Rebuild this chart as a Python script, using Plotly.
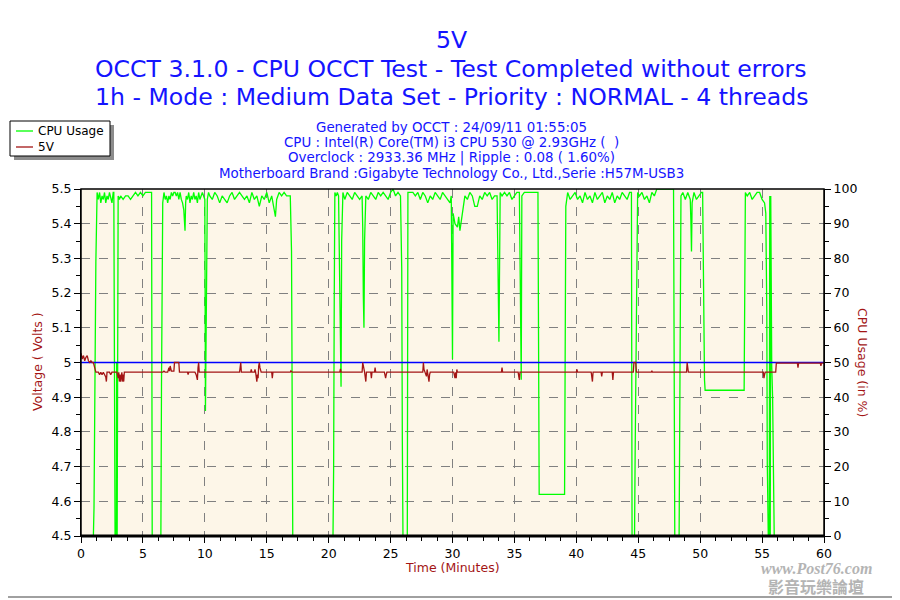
import plotly.graph_objects as go

# CPU usage trace (minutes, %)
cpu_time = [0, 1.0, 1.05, 1.1, 1.2, 1.3, 1.4, 1.5, 1.6, 1.7, 1.8, 1.9, 2.0, 2.1, 2.2, 2.3, 2.4, 2.5, 2.6, 2.65,
            2.7, 2.75, 2.85, 2.88, 2.92, 3.0, 3.1, 3.2, 3.4, 3.6, 3.8, 4.0, 4.2, 4.4, 4.6, 4.8, 5.0, 5.2, 5.4, 5.6, 5.7,
            5.75, 6.45, 6.5, 6.55, 6.6, 6.7, 6.8, 6.9, 7.0, 7.1, 7.2, 7.3, 7.4, 7.5, 7.6, 7.7, 7.8, 7.9, 8.0, 8.1,
            8.2, 8.3, 8.35, 8.4, 8.45, 8.5, 8.6, 8.7, 8.8, 8.9, 9.0, 9.1, 9.2, 9.3, 9.4, 9.5, 9.6, 9.7, 9.8, 9.9,
            10.0, 10.05, 10.1, 10.15, 10.2, 10.3, 10.4, 10.6, 10.8, 11.0, 11.2, 11.4, 11.6, 11.8, 12.0, 12.2, 12.4,
            12.6, 12.8, 13.0, 13.2, 13.4, 13.6, 13.8, 14.0, 14.2, 14.4, 14.6, 14.8, 15.0, 15.2, 15.4, 15.6, 15.7,
            15.8, 16.0, 16.2, 16.4, 16.6, 16.9, 17.0, 17.05, 17.1, 20.35, 20.4, 20.45, 20.5, 20.6, 20.7, 20.8, 20.9,
            20.95, 21.0, 21.05, 21.15, 21.3, 21.5, 21.7, 21.9, 22.1, 22.3, 22.5, 22.7, 22.75, 22.8, 22.85, 22.9,
            23.0, 23.2, 23.4, 23.6, 23.8, 24.0, 24.2, 24.4, 24.6, 24.8, 25.0, 25.2, 25.4, 25.6, 25.8, 25.9, 25.95,
            26.0, 26.35, 26.4, 26.6, 26.8, 27.0, 27.2, 27.4, 27.6, 27.8, 28.0, 28.2, 28.4, 28.6, 28.8, 29.0, 29.2,
            29.4, 29.6, 29.8, 29.9, 29.95, 30.0, 30.05, 30.2, 30.4, 30.5, 30.6, 30.8, 30.9, 31.0, 31.2, 31.4, 31.6,
            31.8, 32.0, 32.2, 32.4, 32.6, 32.8, 33.0, 33.2, 33.4, 33.6, 33.7, 33.75, 33.85, 34.0, 34.2, 34.4, 34.6,
            34.8, 35.0, 35.2, 35.4, 35.45, 35.5, 35.55, 35.6, 35.8, 36.0, 36.4, 36.9, 36.95, 37.0, 39.05, 39.1,
            39.15, 39.3, 39.5, 39.7, 39.9, 40.1, 40.3, 40.5, 40.7, 40.9, 41.1, 41.3, 41.5, 41.7, 41.9, 42.1, 42.3,
            42.5, 42.7, 42.9, 43.1, 43.3, 43.5, 43.7, 43.9, 44.1, 44.3, 44.45, 44.5, 44.7, 44.75, 44.85, 44.95,
            45.1, 45.3, 45.5, 45.7, 45.9, 46.1, 46.3, 46.5, 47.85, 47.9, 47.95, 48.3, 48.35, 48.45, 48.6, 48.8,
            49.0, 49.2, 49.25, 49.3, 49.35, 49.5, 49.7, 49.9, 50.1, 50.2, 50.25, 50.3, 50.35, 50.4, 53.55, 53.6,
            53.65, 53.8, 54.0, 54.2, 54.4, 54.6, 54.8, 55.0, 55.2, 55.3, 55.38, 55.42, 55.5, 55.58, 55.62, 55.66,
            55.7, 55.72, 55.78, 55.85, 55.92, 55.98, 60]
cpu_usage = [0, 0, 8, 37, 79, 99, 97, 99, 96, 98, 97, 99, 96, 98, 97, 99, 97, 96, 99, 99,
             50, 0, 0, 50, 0, 98, 97, 98, 97, 98, 98, 97, 98, 99, 98, 99, 98, 99, 99, 99, 99,
             0, 0, 43, 90, 96, 99, 97, 98, 96, 98, 97, 99, 98, 99, 99, 98, 99, 97, 99, 97,
             96, 94, 89, 88, 96, 98, 97, 99, 96, 98, 97, 99, 97, 98, 96, 99, 97, 98, 99, 98,
             97, 36, 67, 68, 97, 99, 98, 97, 99, 98, 96, 98, 97, 96, 98, 99, 97,
             98, 99, 98, 97, 98, 96, 99, 97, 98, 95, 98, 97, 99, 96, 98, 93, 92,
             97, 99, 98, 99, 98, 98, 82, 33, 0, 0, 19, 68, 99, 98, 99, 98, 71,
             57, 43, 85, 99, 97, 99, 98, 97, 99, 98, 97, 98, 89, 69, 60, 85,
             98, 97, 99, 98, 97, 99, 98, 99, 98, 97, 99, 100, 98, 99, 98, 77, 27,
             0, 0, 99, 99, 99, 98, 99, 97, 99, 98, 96, 98, 97, 99, 98, 97, 99,
             98, 97, 96, 98, 71, 51, 93, 90, 89, 92, 88, 93, 95, 98, 97, 99, 98,
             95, 95, 98, 97, 99, 98, 99, 97, 98, 98, 77, 56, 99, 98, 99, 98, 99,
             97, 98, 99, 99, 85, 72, 45, 98, 99, 99, 99, 99, 56, 12, 12, 53,
             95, 99, 97, 98, 99, 97, 98, 96, 99, 97, 98, 96, 99, 97, 98, 99, 96,
             98, 97, 99, 96, 98, 97, 99, 98, 97, 99, 99, 0, 0, 24, 74, 99,
             98, 99, 97, 98, 96, 99, 98, 100, 100, 49, 0, 0, 49, 98, 99, 97,
             99, 97, 91, 82, 96, 99, 97, 98, 99, 99, 78, 53, 45, 42, 42, 70,
             99, 98, 99, 97, 98, 99, 99, 97, 96, 93, 65, 21, 0, 0, 98, 0,
             98, 78, 49, 40, 10, 0, 0]

# 5V rail readings (minutes, volts)
volt_time = [0, 0.1, 0.2, 0.3, 0.4, 0.5, 0.6, 0.7, 0.8, 0.9, 1.0, 1.1, 1.2, 1.4, 1.5, 1.6, 1.7, 1.8, 1.9, 2.0,
             2.05, 2.1, 2.3, 2.4, 2.5, 2.9, 3.0, 3.05, 3.1, 3.15, 3.2, 3.3, 3.35, 3.4, 3.45, 3.5, 6.6, 6.7, 6.8,
             7.0, 7.1, 7.15, 7.2, 7.3, 7.5, 7.55, 7.9, 7.95, 8.6, 8.65, 8.7, 9.2, 9.3, 9.4, 9.45, 9.5, 9.55, 12.8,
             12.85, 12.9, 12.95, 13.7, 13.75, 13.8, 14.0, 14.05, 14.1, 14.15, 14.2, 14.25, 14.3, 14.35, 14.4,
             14.45, 14.5, 14.55, 15.4, 15.45, 15.5, 16.9, 16.95, 17.05, 20.9, 20.95, 21.0, 22.7, 22.75, 22.8,
             22.9, 23.0, 23.05, 23.4, 23.45, 23.5, 23.7, 23.75, 23.8, 24.5, 24.55, 24.6, 24.65, 24.7, 27.6,
             27.65, 27.7, 27.8, 27.9, 27.95, 28.0, 28.1, 28.15, 28.2, 30.1, 30.15, 30.2, 30.25, 30.3, 30.35,
             30.4, 33.95, 34.0, 34.05, 35.3, 35.35, 35.4, 35.45, 40.0, 40.05, 40.1, 41.2, 41.25, 41.3, 41.35,
             42.0, 42.05, 42.1, 42.9, 42.95, 43.0, 44.6, 44.65, 44.8, 44.85, 46.05, 46.1, 46.15, 48.9, 48.95,
             49.0, 49.05, 55.1, 55.15, 55.2, 55.25, 56.1, 56.15, 57.85, 57.9, 57.95, 59.7, 59.75, 59.8, 60]
volt_5v = [5.027, 5.01, 5.02, 5.005, 5.015, 5.02, 5.005, 5.0, 5.005, 5.0, 5.0, 4.985, 4.972, 4.972, 4.965,
           4.972, 4.965, 4.972, 4.965, 4.958, 4.945, 4.972, 4.972, 4.965, 4.972, 4.972, 4.955, 4.972, 4.945,
           4.965, 4.945, 4.972, 4.945, 4.965, 4.945, 4.972, 4.972, 4.975, 4.972, 4.972, 4.985, 4.975, 4.99,
           4.975, 4.975, 5.0, 5.0, 4.972, 4.972, 4.965, 4.972, 4.972, 4.965, 4.95, 4.985, 5.0, 4.972, 4.972,
           4.985, 5.0, 4.972, 4.972, 4.98, 4.972, 4.972, 4.98, 4.972, 4.955, 4.945, 4.965, 4.955, 4.99, 5.0,
           4.985, 4.98, 4.972, 4.972, 4.955, 4.972, 4.972, 4.976, 4.972, 4.972, 4.982, 4.972, 4.972, 5.0,
           4.985, 4.972, 4.945, 4.972, 4.972, 4.955, 4.972, 4.972, 4.985, 4.972, 4.972, 4.96, 4.955, 4.965,
           4.972, 4.972, 5.0, 4.98, 4.972, 4.96, 4.98, 4.965, 4.945, 4.965, 4.972, 4.972, 4.96, 4.955, 4.972,
           4.955, 4.98, 4.972, 4.972, 4.985, 4.972, 4.972, 4.96, 4.95, 4.972, 4.972, 4.98, 4.972, 4.972,
           4.955, 4.945, 4.972, 4.972, 4.96, 4.972, 4.972, 4.95, 4.972, 4.972, 5.0, 5.0, 4.972, 4.972, 4.976,
           4.972, 4.972, 5.0, 4.985, 4.972, 4.972, 4.955, 4.965, 4.972, 4.972, 4.998, 4.998, 4.985, 4.998,
           4.998, 4.99, 4.998, 4.998]

nominal_time = [0, 60]
nominal_volt = [5.0, 5.0]

title_lines = ["5V",
               "OCCT 3.1.0 - CPU OCCT Test - Test Completed without errors",
               "1h - Mode : Medium Data Set - Priority : NORMAL - 4 threads"]
info_lines = ["Generated by OCCT : 24/09/11 01:55:05",
              "CPU : Intel(R) Core(TM) i3 CPU 530 @ 2.93GHz (  )",
              "Overclock : 2933.36 MHz | Ripple : 0.08 ( 1.60%)",
              "Motherboard Brand :Gigabyte Technology Co., Ltd.,Serie :H57M-USB3"]

BLUE = "#1414ff"
RED = "#a31515"
GREEN = "#00ff00"
FONT = "DejaVu Sans"

# the page body adds an 8px margin, so the figure is 892x592 and shifted
OFF = 8
W, H = 900 - OFF, 600 - OFF
# plot area in screen pixels: x 81..824, y 189..536
L, R, T, B = 81, 824, 189, 536


def px(x):
    return (x - L) / (R - L)


def py(y):
    return (B - y) / (B - T)


fig = go.Figure()

fig.add_trace(go.Scatter(x=cpu_time, y=cpu_usage, name="CPU Usage", mode="lines",
                         line=dict(color=GREEN, width=1.3), yaxis="y"))
fig.add_trace(go.Scatter(x=nominal_time, y=nominal_volt, mode="lines", showlegend=False,
                         line=dict(color="#0000ff", width=1.5), yaxis="y2"))
fig.add_trace(go.Scatter(x=volt_time, y=volt_5v, name="5V", mode="lines",
                         line=dict(color=RED, width=1.3), yaxis="y2"))

annotations = []
for txt, yy in zip(title_lines, [40, 69, 97]):
    annotations.append(dict(text=txt, x=px(451), y=py(yy), xref="paper", yref="paper",
                            showarrow=False, xanchor="center", yanchor="middle",
                            font=dict(family=FONT, size=23.6, color=BLUE)))
for txt, yy in zip(info_lines, [127, 143, 158, 174]):
    annotations.append(dict(text=txt, x=px(451), y=py(yy), xref="paper", yref="paper",
                            showarrow=False, xanchor="center", yanchor="middle",
                            font=dict(family=FONT, size=13.4, color=BLUE)))
annotations += [
    dict(text="Time (Minutes)", x=px(452), y=py(567), xref="paper", yref="paper", showarrow=False,
         xanchor="center", yanchor="middle", font=dict(family=FONT, size=12.5, color=RED)),
    dict(text="Voltage ( Volts )", x=px(37), y=py(362), xref="paper", yref="paper", showarrow=False,
         textangle=-90, xanchor="center", yanchor="middle", font=dict(family=FONT, size=12.5, color=RED)),
    dict(text="CPU Usage (in %)", x=px(863), y=py(362), xref="paper", yref="paper", showarrow=False,
         textangle=90, xanchor="center", yanchor="middle", font=dict(family=FONT, size=12.5, color=RED)),
    # legend texts
    dict(text="CPU Usage", x=px(36), y=py(131), xref="paper", yref="paper", showarrow=False,
         xanchor="left", yanchor="middle", font=dict(family=FONT, size=12, color="black")),
    dict(text="5V", x=px(36), y=py(147), xref="paper", yref="paper", showarrow=False,
         xanchor="left", yanchor="middle", font=dict(family=FONT, size=12, color="black")),
    # watermark
    dict(text="<b><i>www.Post76.com</i></b>", x=px(816), y=py(568), xref="paper", yref="paper",
         showarrow=False, xanchor="center", yanchor="middle", borderpad=0,
         font=dict(family="Liberation Serif", size=16, color="#b4b4b4")),
    dict(text="<b>影音玩樂論壇</b>", x=px(816), y=py(586), xref="paper", yref="paper",
         showarrow=False, xanchor="center", yanchor="middle", borderpad=0,
         font=dict(family="Noto Sans CJK TC", size=16, color="#b4b4b4")),
]

shapes = [
    # legend box with shadow
    dict(type="rect", xref="paper", yref="paper", x0=px(14), x1=px(114), y0=py(160), y1=py(125),
         fillcolor="#8c8c8c", line=dict(width=0)),
    dict(type="rect", xref="paper", yref="paper", x0=px(10), x1=px(110), y0=py(156), y1=py(121),
         fillcolor="white", line=dict(color="black", width=1)),
    dict(type="line", xref="paper", yref="paper", x0=px(16), x1=px(33), y0=py(131), y1=py(131),
         line=dict(color=GREEN, width=1.3)),
    dict(type="line", xref="paper", yref="paper", x0=px(16), x1=px(33), y0=py(147), y1=py(147),
         line=dict(color=RED, width=1.3)),
    # plot frame drawn over the traces
    dict(type="rect", xref="paper", yref="paper", x0=0, x1=1, y0=0, y1=1, layer="above",
         line=dict(color="black", width=1.5)),
    dict(type="line", xref="paper", yref="paper", x0=0, x1=1, y0=0, y1=0, layer="above",
         line=dict(color="black", width=3)),
    # outer frame of the picture
    dict(type="line", xref="paper", yref="paper", x0=px(896), x1=px(896), y0=py(0), y1=py(597),
         line=dict(color="#a0a0a0", width=2)),
    dict(type="line", xref="paper", yref="paper", x0=px(0), x1=px(897), y0=py(597), y1=py(597),
         line=dict(color="#a0a0a0", width=2)),
]

fig.update_layout(
    width=W, height=H,
    margin=dict(l=L - OFF, r=W - (R - OFF), t=T - OFF, b=H - (B - OFF), autoexpand=False),
    paper_bgcolor="white",
    plot_bgcolor="#fdf6e8",
    font=dict(family=FONT, size=12, color="black"),
    showlegend=False,
    xaxis=dict(range=[0, 60], dtick=5, tick0=0, showgrid=True, gridcolor="#808080", griddash="dash",
               gridwidth=1, showline=True, linecolor="black", linewidth=1,
               ticks="outside", ticklen=6, tickcolor="black", zeroline=False,
               tickfont=dict(size=12.5),
               minor=dict(dtick=1.25, ticks="outside", ticklen=4, tickcolor="black", showgrid=False)),
    yaxis=dict(range=[0, 100], dtick=10, side="right", showgrid=True, gridcolor="#808080",
               griddash="dash", showline=True, linecolor="black", linewidth=1,
               ticks="outside", ticklen=6, tickcolor="black", zeroline=False,
               tickfont=dict(size=12.5),
               minor=dict(dtick=5, ticks="outside", ticklen=4, tickcolor="black", showgrid=False)),
    yaxis2=dict(range=[4.5, 5.5], dtick=0.1, side="left", overlaying="y", showgrid=False,
                showline=True, linecolor="black", linewidth=1, tickformat="~g",
                ticks="outside", ticklen=6, tickcolor="black", zeroline=False,
                tickfont=dict(size=12.5),
                minor=dict(dtick=0.05, ticks="outside", ticklen=4, tickcolor="black")),
    annotations=annotations,
    shapes=shapes,
)

fig.write_html("out.html")
